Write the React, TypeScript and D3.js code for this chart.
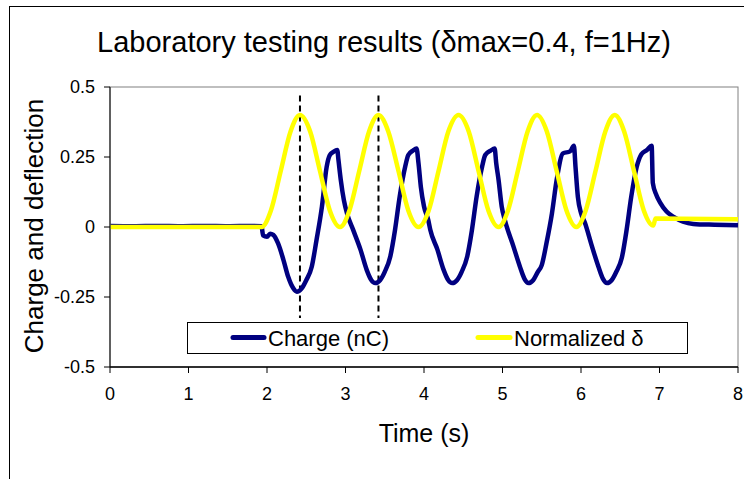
import React from "react";
import * as d3 from "d3";

// ---- data ----
const chargeT = [
  0, 0.3, 0.6, 0.9, 1.2, 1.5, 1.8, 1.93, 1.95, 2.0, 2.04, 2.08, 2.14, 2.21, 2.27, 2.335, 2.38, 2.44, 2.5, 2.57, 2.63, 2.7, 2.76, 2.8, 2.845, 2.895,
  2.91, 2.94, 2.98, 3.02, 3.1, 3.19, 3.27, 3.33, 3.38, 3.44, 3.5, 3.57, 3.63, 3.69, 3.76, 3.8, 3.86, 3.905,
  3.93, 3.96, 4.0, 4.055, 4.08, 4.17, 4.25, 4.31, 4.36, 4.42, 4.48, 4.55, 4.61, 4.67, 4.74, 4.78, 4.85, 4.9,
  4.92, 4.95, 4.99, 5.03, 5.14, 5.22, 5.28, 5.33, 5.39, 5.45, 5.5, 5.56, 5.63, 5.69, 5.77, 5.86, 5.91,
  5.93, 5.96, 6.0, 6.05, 6.13, 6.22, 6.28, 6.33, 6.39, 6.45, 6.52, 6.58, 6.64, 6.71, 6.77, 6.84, 6.9,
  6.915, 6.96, 7.01, 7.09, 7.18, 7.3, 7.43, 7.7, 8.0,
];
const chargeV = [
  0.004, 0.003, 0.004, 0.003, 0.004, 0.003, 0.004, 0.003, -0.03, -0.035, -0.024, -0.028, -0.058, -0.118, -0.178, -0.219, -0.231, -0.22, -0.19, -0.142, -0.048, 0.073, 0.215, 0.257, 0.268, 0.275,
  0.24, 0.168, 0.095, 0.048, -0.012, -0.08, -0.153, -0.19, -0.2, -0.19, -0.16, -0.106, -0.012, 0.108, 0.215, 0.257, 0.273, 0.28,
  0.228, 0.143, 0.073, 0.024, -0.01, -0.08, -0.153, -0.19, -0.2, -0.19, -0.16, -0.106, -0.012, 0.108, 0.215, 0.257, 0.273, 0.28,
  0.228, 0.168, 0.073, 0.025, -0.07, -0.14, -0.185, -0.2, -0.19, -0.16, -0.136, -0.058, 0.049, 0.168, 0.263, 0.27, 0.29,
  0.215, 0.108, 0.05, 0.015, -0.06, -0.14, -0.185, -0.2, -0.19, -0.16, -0.11, -0.012, 0.108, 0.215, 0.26, 0.275, 0.29,
  0.157, 0.114, 0.086, 0.055, 0.036, 0.019, 0.011, 0.008, 0.006,
];

const deltaT = [
  0, 1.93, 2.05, 2.175, 2.3, 2.42, 2.55, 2.675, 2.8, 2.93, 3.05, 3.175, 3.3, 3.42, 3.545, 3.675, 3.8, 3.93,
  4.06, 4.185, 4.31, 4.44, 4.57, 4.695, 4.82, 4.95, 5.07, 5.195, 5.32, 5.44, 5.565, 5.69, 5.815, 5.94,
  6.06, 6.185, 6.31, 6.43, 6.55, 6.675, 6.8, 6.92, 6.95, 8.0,
];
const deltaV = [
  0, 0, 0.059, 0.2, 0.341, 0.4, 0.341, 0.2, 0.059, 0, 0.059, 0.2, 0.341, 0.4, 0.341, 0.2, 0.059, 0,
  0.059, 0.2, 0.341, 0.4, 0.341, 0.2, 0.059, 0, 0.059, 0.2, 0.341, 0.4, 0.341, 0.2, 0.059, 0,
  0.059, 0.2, 0.341, 0.4, 0.341, 0.2, 0.059, 0.005, 0.03, 0.028,
];

const markerTimes = [2.42, 3.42];
const markerRange = [-0.325, 0.47];

const xTicks = [0, 1, 2, 3, 4, 5, 6, 7, 8];
const yTicks = [-0.5, -0.25, 0, 0.25, 0.5];
const yTickLabels = ["-0.5", "-0.25", "0", "0.25", "0.5"];

const seriesNames = ["Charge (nC)", "Normalized δ"];
const seriesColors = ["#000080", "#FFFF00"];

const title = "Laboratory testing results (δmax=0.4, f=1Hz)";
const xTitle = "Time (s)";
const yTitle = "Charge and deflection";

const FONT = "'Liberation Sans', Arial, sans-serif";

export default function App() {
  const W = 744;
  const H = 479;
  const left = 110;
  const right = 738;
  const top = 87;
  const bottom = 367;

  const x = d3.scaleLinear().domain([0, 8]).range([left, right]);
  const y = d3.scaleLinear().domain([-0.5, 0.5]).range([bottom, top]);

  const line = d3
    .line<[number, number]>()
    .x((d) => x(d[0]))
    .y((d) => y(d[1]))
    .curve(d3.curveMonotoneX);

  const chargeData: [number, number][] = chargeT.map((t, i) => [t, chargeV[i]]);
  const deltaData: [number, number][] = deltaT.map((t, i) => [t, deltaV[i]]);

  return (
    <svg
      width={W}
      height={H}
      style={{ position: "absolute", left: 0, top: 0, display: "block", background: "#fff" }}
      fontFamily={FONT}
    >
      <rect x={0} y={0} width={W} height={H} fill="#fff" />
      {/* outer chart border */}
      <rect x={9.5} y={6.5} width={W + 20} height={H + 20} fill="none" stroke="#000" strokeWidth={1} />

      {/* title */}
      <text x={384} y={52} textAnchor="middle" fontSize={29} fill="#000">
        {title}
      </text>

      {/* plot frame */}
      <rect x={left} y={top} width={right - left} height={bottom - top} fill="#fff" stroke="#808080" strokeWidth={1} />

      {/* dashed markers */}
      {markerTimes.map((t, i) => (
        <line
          key={"m" + i}
          x1={x(t)}
          x2={x(t)}
          y1={y(markerRange[1])}
          y2={y(markerRange[0])}
          stroke="#000"
          strokeWidth={2}
          strokeDasharray="6,4"
        />
      ))}

      {/* series */}
      <path d={line(chargeData) || ""} fill="none" stroke={seriesColors[0]} strokeWidth={4.5} strokeLinejoin="round" />
      <path d={line(deltaData) || ""} fill="none" stroke={seriesColors[1]} strokeWidth={4.5} strokeLinejoin="round" />

      {/* axes */}
      <line x1={left} x2={left} y1={top} y2={bottom} stroke="#404040" strokeWidth={1.5} />
      <line x1={left} x2={right} y1={bottom} y2={bottom} stroke="#000" strokeWidth={1.5} />

      {yTicks.map((v, i) => (
        <g key={"y" + i}>
          <line x1={left - 6} x2={left} y1={y(v)} y2={y(v)} stroke="#000" strokeWidth={1} />
          <text x={95} y={y(v)} dy="0.35em" textAnchor="end" fontSize={18} fill="#000">
            {yTickLabels[i]}
          </text>
        </g>
      ))}
      {xTicks.map((v, i) => (
        <g key={"x" + i}>
          <line x1={x(v)} x2={x(v)} y1={bottom} y2={bottom + 6} stroke="#000" strokeWidth={1} />
          <text x={x(v)} y={394} dy="0.35em" textAnchor="middle" fontSize={18} fill="#000">
            {v}
          </text>
        </g>
      ))}

      {/* axis titles */}
      <text x={424} y={442} textAnchor="middle" fontSize={25} fill="#000">
        {xTitle}
      </text>
      <text
        transform={`translate(43, 226) rotate(-90)`}
        textAnchor="middle"
        fontSize={26}
        fill="#000"
      >
        {yTitle}
      </text>

      {/* legend */}
      <rect x={187.5} y={322.5} width={500} height={31} fill="#fff" stroke="#000" strokeWidth={1} />
      <line x1={233} x2={264} y1={337.5} y2={337.5} stroke={seriesColors[0]} strokeWidth={5} strokeLinecap="round" />
      <text x={268} y={338} dy="0.35em" fontSize={22} fill="#000">
        {seriesNames[0]}
      </text>
      <line x1={478} x2={510} y1={337.5} y2={337.5} stroke={seriesColors[1]} strokeWidth={5} strokeLinecap="round" />
      <text x={514} y={338} dy="0.35em" fontSize={22} fill="#000">
        {seriesNames[1]}
      </text>
    </svg>
  );
}
